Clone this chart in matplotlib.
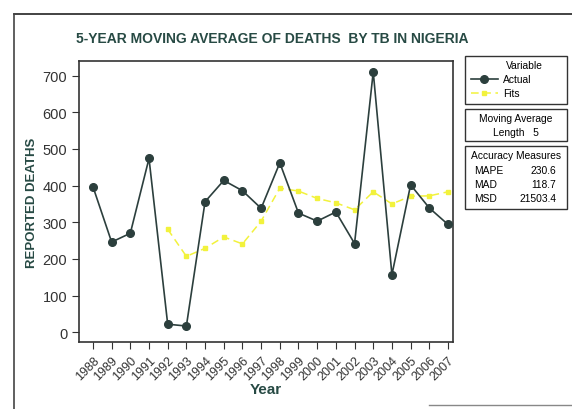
import matplotlib
matplotlib.use("Agg")
import matplotlib.pyplot as plt
from matplotlib.patches import Rectangle
from matplotlib.lines import Line2D

plt.rcParams['font.family'] = ['Liberation Sans', 'DejaVu Sans']

years = list(range(1988, 2008))
actual = [397, 246, 270, 474, 22, 17, 356, 414, 386, 338,
          462, 325, 303, 328, 242, 710, 157, 402, 339, 294]
fit_years = list(range(1992, 2008))
fits = [281, 207, 229, 260, 241, 303, 393, 385, 365, 353,
        334, 383, 350, 371, 372, 383]
ma_length = 5
measures = [("MAPE", "230.6"), ("MAD", "118.7"), ("MSD", "21503.4")]

dark = '#2c3f3d'
teal = '#274a44'
yellow = '#f2f23c'

fig = plt.figure(figsize=(5.72, 4.10), dpi=100)
ax = fig.add_axes([0.138, 0.163, 0.654, 0.686])

ax.plot(years, actual, color=dark, lw=1.2, marker='o', ms=5.5, zorder=3)
ax.plot(fit_years, fits, color=yellow, lw=1.1, ls=(0, (5, 3)), marker='s', ms=3.5, zorder=2)

ax.set_xlim(1987.25, 2007.27)
ax.set_ylim(-27, 740)
ax.set_yticks(range(0, 701, 100))
ax.set_xticks(years)
ax.set_xticklabels([str(y) for y in years], rotation=45, ha='right', rotation_mode='anchor', fontsize=9)
ax.tick_params(axis='y', labelsize=10.5, colors='#333333', length=5)
ax.tick_params(axis='x', colors='#333333', length=5)
for s in ax.spines.values():
    s.set_color('#333333')
    s.set_linewidth(1.2)

ax.set_xlabel('Year', fontsize=11, fontweight='bold', color=teal, labelpad=0)
ax.set_ylabel('REPORTED DEATHS', fontsize=9.5, fontweight='bold', color=teal)
ax.yaxis.set_label_coords(-0.11, 0.5)
fig.text(0.476, 0.905, '5-YEAR MOVING AVERAGE OF DEATHS  BY TB IN NIGERIA',
         ha='center', va='center', fontsize=10, fontweight='bold', color=teal)

# outer frame of the scanned chart
fig.add_artist(Line2D([0.024, 1.0], [0.963, 0.963], transform=fig.transFigure, color='#222222', lw=1.2))
fig.add_artist(Line2D([0.024, 0.024], [0.963, 0.0], transform=fig.transFigure, color='#444444', lw=1.2))
fig.add_artist(Line2D([0.75, 1.0], [0.01, 0.01], transform=fig.transFigure, color='#888888', lw=1.0))


def px(x, y):
    return x / 572, 1 - y / 410


def box(x0, y0, x1, y1):
    fig.add_artist(Rectangle(px(x0, y1), (x1 - x0) / 572, (y1 - y0) / 410,
                             transform=fig.transFigure, fill=False, ec='#333333', lw=1.0))


fs = 7.4
box(465, 57, 567, 105)
fig.text(*px(524, 66), 'Variable', ha='center', va='center', fontsize=fs)
fig.add_artist(Line2D([px(471, 0)[0], px(498, 0)[0]], [px(0, 80)[1]] * 2, transform=fig.transFigure,
                      color=dark, lw=1.2))
fig.add_artist(Line2D([px(484.5, 0)[0]], [px(0, 80)[1]], transform=fig.transFigure,
                      color=dark, marker='o', ms=5.5, ls='none'))
fig.text(*px(503, 80), 'Actual', ha='left', va='center', fontsize=fs)
fig.add_artist(Line2D([px(471, 0)[0], px(498, 0)[0]], [px(0, 94)[1]] * 2, transform=fig.transFigure,
                      color=yellow, lw=1.1, ls=(0, (5, 3))))
fig.add_artist(Line2D([px(484.5, 0)[0]], [px(0, 94)[1]], transform=fig.transFigure,
                      color=yellow, marker='s', ms=3.5, ls='none'))
fig.text(*px(503, 94), 'Fits', ha='left', va='center', fontsize=fs)

box(465, 110, 567, 142)
fig.text(*px(516, 119), 'Moving Average', ha='center', va='center', fontsize=fs)
fig.text(*px(516, 133), 'Length   %d' % ma_length, ha='center', va='center', fontsize=fs)

box(465, 147, 567, 210)
fig.text(*px(516, 156), 'Accuracy Measures', ha='center', va='center', fontsize=fs)
for i, (name, val) in enumerate(measures):
    yy = 171 + i * 14
    fig.text(*px(474, yy), name, ha='left', va='center', fontsize=fs)
    fig.text(*px(556, yy), val, ha='right', va='center', fontsize=fs)

fig.savefig('out.png', dpi=100)
